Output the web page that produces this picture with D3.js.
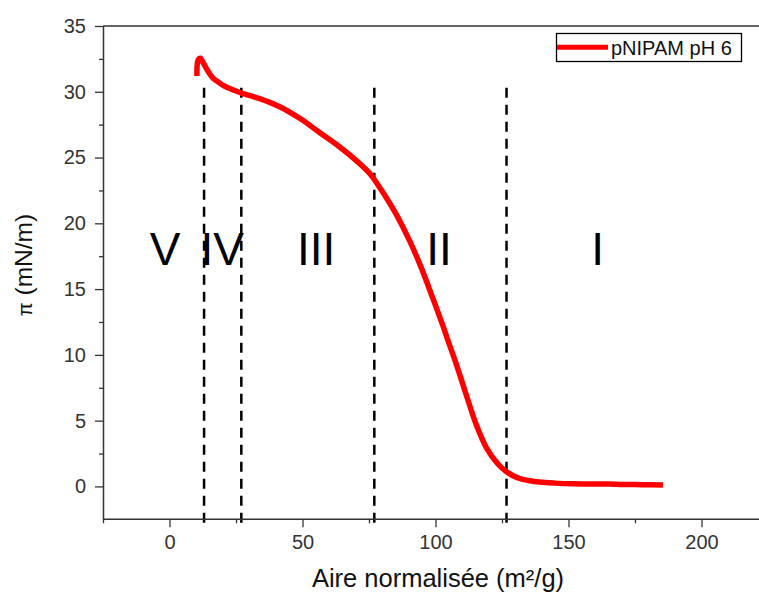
<!DOCTYPE html>
<html>
<head>
<meta charset="utf-8">
<script src="https://cdn.jsdelivr.net/npm/d3@7"></script>
<style>
  html, body { margin: 0; padding: 0; background: #fff; }
  svg { display: block; font-family: Arial, "Liberation Sans", sans-serif; }
</style>
</head>
<body>
<svg id="chart" width="759" height="593"></svg>
<script>
// ---- data ----
const areaX = [10.3, 10.5, 11.0, 11.6, 12.4, 13.5, 15.0, 16.5, 18.2, 20.0, 22.0, 24.5, 27.0, 32.0, 37.0, 42.0, 46.0, 50.0, 56.4, 64.0, 71.4, 75.0, 77.1, 79.0, 81.5, 85.2, 90.2, 94.6, 99.0, 102.8, 104.5, 107.8, 111.5, 115.3, 119.1, 123.4, 126.8, 131.6, 135.0, 139.1, 145.0, 151.6, 160.0, 165.0, 170.4, 178.0, 185.5];
const piValues = [31.2, 32.2, 32.5, 32.55, 32.3, 31.9, 31.4, 31.0, 30.77, 30.5, 30.3, 30.1, 29.9, 29.6, 29.25, 28.8, 28.35, 27.85, 26.9, 25.8, 24.56, 23.85, 23.3, 22.72, 21.95, 20.7, 18.7, 16.65, 14.3, 12.2, 11.2, 9.3, 7.0, 4.7, 2.95, 1.72, 1.09, 0.6, 0.45, 0.33, 0.25, 0.2, 0.18, 0.19, 0.15, 0.13, 0.1];
const seriesName = "pNIPAM pH 6";
const xMajorTicks = [0, 50, 100, 150, 200];
const xMinorTicks = [-25, 25, 75, 125, 175, 225];
const yMajorTicks = [0, 5, 10, 15, 20, 25, 30, 35];
const yMinorTicks = [2.5, 7.5, 12.5, 17.5, 22.5, 27.5, 32.5];
const boundaryX = [13, 27, 77, 126.7];
const regionLabels = ["V", "IV", "III", "II", "I"];
const regionLabelX = [-1.7, 19.8, 55.1, 101.3, 161];
const regionLabelY = 16.8;
const xTitle = "Aire normalisée (m²/g)";
const yTitleSymbol = "π";
const yTitleUnit = " (mN/m)";

// ---- layout ----
const svg = d3.select("#chart");
const plotLeft = 103, plotTop = 26, plotBottom = 519.3;
const x = d3.scaleLinear().domain([-25, 225]).range([plotLeft, plotLeft + 250 * 2.66]);
const y = d3.scaleLinear().domain([-2.5, 35]).range([plotBottom, plotTop]);
const axisColor = "#333";

// top border
svg.append("line")
  .attr("x1", x(-25)).attr("x2", 759)
  .attr("y1", y(35)).attr("y2", y(35))
  .attr("stroke", axisColor).attr("stroke-width", 1.3);

// dashed boundary lines
svg.append("g").selectAll("line").data(boundaryX).join("line")
  .attr("x1", d => x(d)).attr("x2", d => x(d))
  .attr("y1", y(30.3)).attr("y2", y(-2.95))
  .attr("stroke", "#000").attr("stroke-width", 2.5)
  .attr("stroke-dasharray", "10,7");

// x axis
const gx = svg.append("g").attr("transform", `translate(0,${plotBottom})`);
gx.call(d3.axisBottom(x).tickValues(xMajorTicks).tickSize(8).tickSizeOuter(0).tickPadding(8).tickFormat(d3.format("d")));
gx.append("g").call(d3.axisBottom(x).tickValues(xMinorTicks).tickSize(4).tickSizeOuter(0).tickFormat(""))
  .select(".domain").remove();
gx.select(".domain").attr("d", `M${x(-25)},0H759`);

// y axis
const gy = svg.append("g").attr("transform", `translate(${plotLeft},0)`);
gy.call(d3.axisLeft(y).tickValues(yMajorTicks).tickSize(8).tickSizeOuter(0).tickPadding(9).tickFormat(d3.format("d")));
gy.append("g").call(d3.axisLeft(y).tickValues(yMinorTicks).tickSize(4).tickSizeOuter(0).tickFormat(""))
  .select(".domain").remove();

svg.selectAll(".domain").attr("stroke", axisColor).attr("stroke-width", 1.5);
svg.selectAll(".tick line").attr("stroke", axisColor).attr("stroke-width", 1.3);
svg.selectAll(".tick text").attr("fill", "#333").style("font-size", "20px").style("font-family", "Arial, 'Liberation Sans', sans-serif");

// curve
const pts = areaX.map((d, i) => [d, piValues[i]]);
svg.append("path")
  .datum(pts)
  .attr("fill", "none")
  .attr("stroke", "#ff0000")
  .attr("stroke-width", 5.5)
  .attr("stroke-linejoin", "round")
  .attr("d", d3.line().x(d => x(d[0])).y(d => y(d[1])).curve(d3.curveCatmullRom.alpha(0.5)));

// region labels
svg.append("g").selectAll("text").data(regionLabels).join("text")
  .attr("x", (d, i) => x(regionLabelX[i]))
  .attr("y", y(regionLabelY))
  .attr("text-anchor", "middle")
  .attr("fill", "#000")
  .style("font-size", "46px")
  .text(d => d);

// legend
const lg = svg.append("g");
lg.append("rect").attr("x", 556.5).attr("y", 33.5).attr("width", 185).attr("height", 28)
  .attr("fill", "#fff").attr("stroke", "#000").attr("stroke-width", 1.3);
lg.append("line").attr("x1", 557).attr("x2", 608).attr("y1", 47.3).attr("y2", 47.3)
  .attr("stroke", "#ff0000").attr("stroke-width", 5);
lg.append("text").attr("x", 611).attr("y", 54.5).attr("fill", "#111")
  .style("font-size", "20px").text(seriesName);

// axis titles
svg.append("text")
  .attr("x", 438).attr("y", 587)
  .attr("text-anchor", "middle").attr("fill", "#111")
  .style("font-size", "25.5px")
  .text(xTitle);

const yt = svg.append("text")
  .attr("transform", "translate(32,265) rotate(-90)")
  .attr("text-anchor", "middle").attr("fill", "#111")
  .style("font-size", "24.5px");
yt.append("tspan").style("font-size", "20px").text(yTitleSymbol);
yt.append("tspan").text(yTitleUnit);
</script>
</body>
</html>
